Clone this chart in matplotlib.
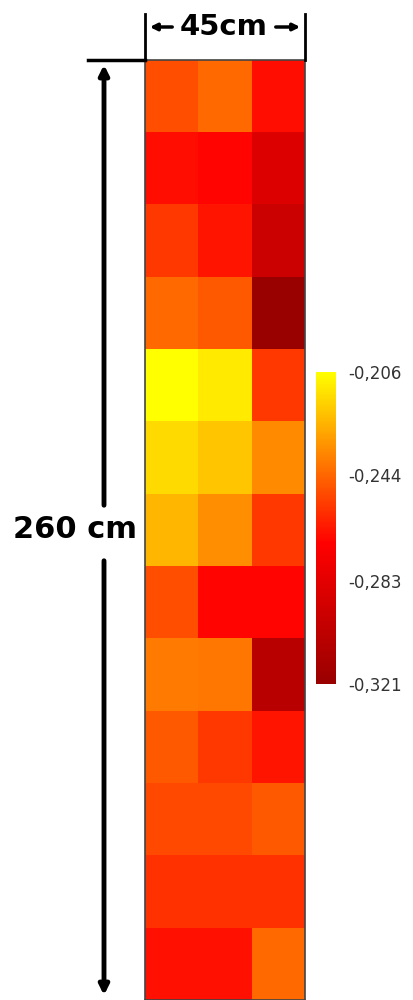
import matplotlib
matplotlib.use("Agg")
import matplotlib.pyplot as plt
import numpy as np
from matplotlib.colors import LinearSegmentedColormap

# ── Data: 13 rows (top to bottom) x 3 columns ────────────────────────────────
row_1 = [-0.250, -0.243, -0.266]
row_2 = [-0.266, -0.268, -0.286]
row_3 = [-0.255, -0.264, -0.295]
row_4 = [-0.243, -0.247, -0.321]
row_5 = [-0.206, -0.211, -0.255]
row_6 = [-0.215, -0.220, -0.235]
row_7 = [-0.224, -0.234, -0.255]
row_8 = [-0.250, -0.268, -0.268]
row_9 = [-0.239, -0.240, -0.304]
row_10 = [-0.247, -0.255, -0.264]
row_11 = [-0.251, -0.251, -0.247]
row_12 = [-0.257, -0.257, -0.257]
row_13 = [-0.265, -0.265, -0.243]

vmin, vmax = -0.321, -0.206
cbar_ticks = [-0.321, -0.283, -0.244, -0.206]
cbar_labels = ["-0,321", "-0,283", "-0,244", "-0,206"]

grid = np.array([row_1, row_2, row_3, row_4, row_5, row_6, row_7,
                 row_8, row_9, row_10, row_11, row_12, row_13])

cmap = LinearSegmentedColormap.from_list(
    "redyel", [(0.0, "#990000"), (0.45, "#ff0000"), (1.0, "#ffff00")])

fig = plt.figure(figsize=(4.13, 10), dpi=100)

# ── Heatmap ───────────────────────────────────────────────────────────────────
ax = fig.add_axes([145 / 413, 0.0, 160 / 413, 0.94])
ax.imshow(grid, cmap=cmap, vmin=vmin, vmax=vmax, aspect="auto",
          interpolation="nearest")
ax.set_xticks([])
ax.set_yticks([])
for s in ax.spines.values():
    s.set_color("#444444")
    s.set_linewidth(1.2)

# ── Colorbar ──────────────────────────────────────────────────────────────────
cax = fig.add_axes([316 / 413, 0.316, 20 / 413, 0.312])
sm = plt.cm.ScalarMappable(cmap=cmap, norm=plt.Normalize(vmin, vmax))
cb = fig.colorbar(sm, cax=cax, ticks=cbar_ticks)
cb.set_ticklabels(cbar_labels)
cb.outline.set_visible(False)
cax.tick_params(length=0, pad=9, labelsize=12, labelcolor="#333333")

# ── Dimension annotations ─────────────────────────────────────────────────────
ov = fig.add_axes([0, 0, 1, 1], facecolor="none")
ov.set_xlim(0, 413)
ov.set_ylim(1000, 0)
ov.axis("off")

# width marker
ov.plot([145, 145], [14, 60], color="black", lw=2)
ov.plot([305, 305], [14, 60], color="black", lw=2)
ov.text(224, 27, "45cm", ha="center", va="center", fontsize=21,
        fontweight="bold")
ov.annotate("", xy=(147, 27), xytext=(175, 27),
            arrowprops=dict(arrowstyle="-|>", color="black", lw=2.5,
                            mutation_scale=10))
ov.annotate("", xy=(303, 27), xytext=(273, 27),
            arrowprops=dict(arrowstyle="-|>", color="black", lw=2.5,
                            mutation_scale=10))

# height marker
ov.plot([88, 145], [60, 60], color="black", lw=2.5)
ov.text(75, 530, "260 cm", ha="center", va="center", fontsize=22,
        fontweight="bold")
ov.annotate("", xy=(104, 62), xytext=(104, 508),
            arrowprops=dict(arrowstyle="-|>", color="black", lw=3.5,
                            mutation_scale=14))
ov.annotate("", xy=(104, 998), xytext=(104, 558),
            arrowprops=dict(arrowstyle="-|>", color="black", lw=3.5,
                            mutation_scale=14))

fig.savefig("out.png", dpi=100)
